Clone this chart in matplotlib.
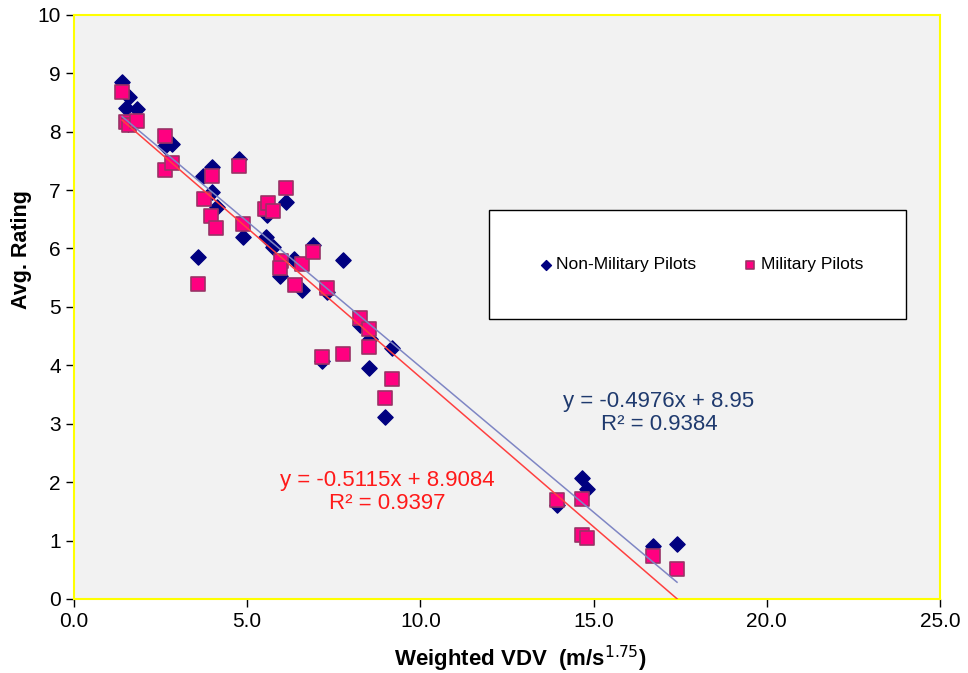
import matplotlib
matplotlib.use("Agg")
import matplotlib.pyplot as plt
from matplotlib.patches import Rectangle

plt.rcParams['font.family'] = ['Liberation Sans', 'DejaVu Sans']

# non-military pilots (blue diamonds)
nonmil_x = [1.39, 1.59, 1.50, 1.82, 1.56, 2.63, 2.83, 3.72, 3.98, 3.98, 4.13, 4.76,
            4.88, 5.54, 5.74, 6.12, 5.57, 3.58, 6.35, 5.95, 6.90, 7.77, 6.58, 7.30,
            8.26, 8.54, 9.18, 7.16, 8.52, 8.98, 13.94, 14.67, 14.81, 16.71, 17.41]
nonmil_y = [8.85, 8.60, 8.41, 8.39, 8.13, 7.76, 7.79, 7.24, 7.40, 6.97, 6.71, 7.53,
            6.20, 6.20, 6.03, 6.80, 6.58, 5.86, 5.82, 5.53, 6.06, 5.80, 5.29, 5.26,
            4.69, 4.45, 4.30, 4.08, 3.96, 3.12, 1.61, 2.07, 1.88, 0.91, 0.94]

# military pilots (pink squares)
mil_x = [1.39, 1.50, 1.59, 1.82, 2.63, 2.63, 2.83, 3.75, 3.98, 3.96, 4.10, 4.76,
         4.88, 5.51, 5.60, 5.74, 6.12, 3.58, 5.98, 5.95, 6.58, 6.90, 6.38, 7.30,
         8.26, 8.52, 8.52, 9.18, 7.16, 7.77, 8.98, 13.94, 14.67, 14.67, 14.81,
         16.71, 17.41]
mil_y = [8.68, 8.17, 8.12, 8.18, 7.93, 7.35, 7.47, 6.85, 7.24, 6.56, 6.35, 7.41,
         6.42, 6.68, 6.78, 6.64, 7.04, 5.39, 5.79, 5.67, 5.74, 5.94, 5.38, 5.33,
         4.81, 4.62, 4.32, 3.77, 4.14, 4.20, 3.44, 1.70, 1.71, 1.10, 1.04,
         0.74, 0.51]

# linear trend lines (slope, intercept) as shown on the chart
nonmil_fit = (-0.4976, 8.95)
mil_fit = (-0.5115, 8.9084)

fig = plt.figure(figsize=(9.68, 6.73), dpi=100)
ax = fig.add_axes([0.0764, 0.110, 0.8946, 0.868])
ax.set_facecolor('#f2f2f2')

ax.scatter(nonmil_x, nonmil_y, marker='D', s=60, color='#000080', zorder=3,
           label='Non-Military Pilots')
ax.scatter(mil_x, mil_y, marker='s', s=95, color='#ff0080', edgecolor='#993366',
           linewidth=1.2, zorder=4, label='Military Pilots')

x0, x1 = min(nonmil_x), max(nonmil_x)
ax.plot([x0, x1], [nonmil_fit[0] * x0 + nonmil_fit[1], nonmil_fit[0] * x1 + nonmil_fit[1]],
        color='#7f86c4', lw=1.1, zorder=5)
x0, x1 = min(mil_x), max(mil_x)
ax.plot([x0, x1], [mil_fit[0] * x0 + mil_fit[1], mil_fit[0] * x1 + mil_fit[1]],
        color='#ff4040', lw=1.1, zorder=5)

ax.text(16.89, 3.56, 'y = -0.4976x + 8.95\nR² = 0.9384', color='#1f3a6e',
        fontsize=16, ha='center', va='top', linespacing=1.15)
ax.text(9.04, 2.21, 'y = -0.5115x + 8.9084\nR² = 0.9397', color='#ff1a1a',
        fontsize=16, ha='center', va='top', linespacing=1.15)

ax.set_xlim(0, 25)
ax.set_ylim(0, 10)
ax.set_xticks([0, 5, 10, 15, 20, 25])
ax.set_xticklabels(['0.0', '5.0', '10.0', '15.0', '20.0', '25.0'])
ax.set_yticks(range(0, 11))
ax.tick_params(labelsize=15, direction='out', length=6, width=1, color='black')
for s in ax.spines.values():
    s.set_color('#ffff00')
    s.set_linewidth(1.5)

ax.set_xlabel('Weighted VDV  (m/s$^{1.75}$)', fontsize=16, fontweight='bold')
ax.xaxis.set_label_coords(0.516, -0.077)
ax.set_ylabel('Avg. Rating', fontsize=15.5, fontweight='bold')
ax.yaxis.set_label_coords(-0.049, 0.598)

# legend box
ax.add_patch(Rectangle((0.479, 0.479), 0.482, 0.187, transform=ax.transAxes,
                       facecolor='white', edgecolor='black', lw=1, zorder=6))
leg = ax.legend(loc='center', bbox_to_anchor=(0.723, 0.5725), ncol=2, frameon=False,
                fontsize=12.5, handletextpad=0.1, columnspacing=2.6,
                markerscale=0.65, handlelength=1.0)
leg.set_zorder(7)

fig.savefig('out.png', dpi=100)
